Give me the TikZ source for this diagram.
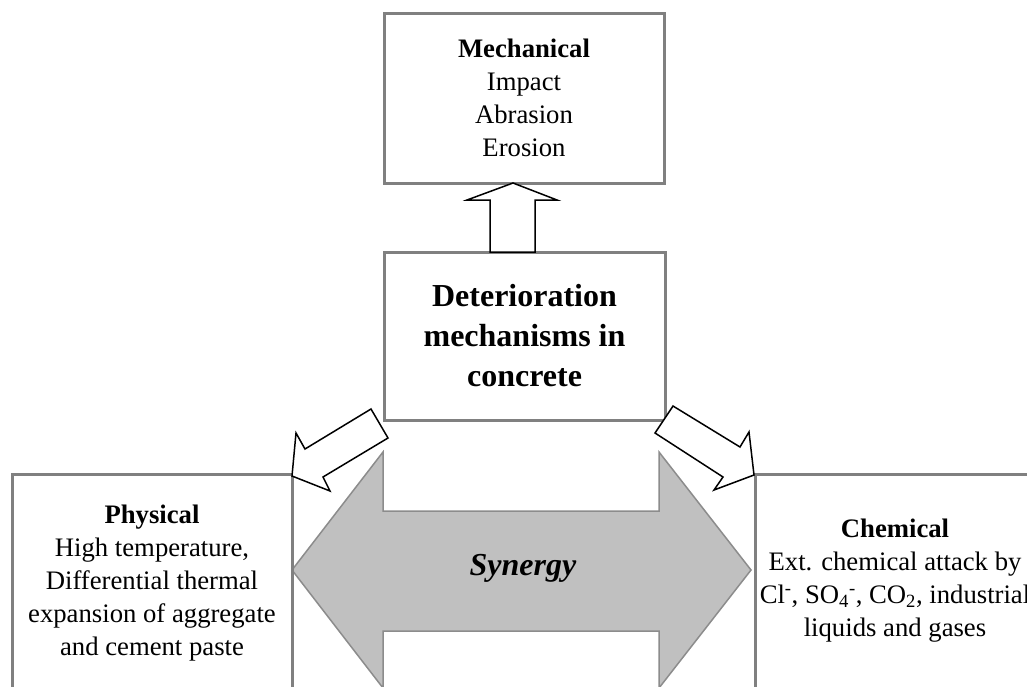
\documentclass[tikz,border=0pt]{standalone}
\usepackage{fontspec}
\setmainfont{Liberation Serif}
\definecolor{boxgray}{HTML}{808080}
\definecolor{synfill}{HTML}{C0C0C0}
\definecolor{synline}{HTML}{8C8C8C}
\begin{document}
\begin{tikzpicture}[x=1pt,y=-1pt,
  box/.style={draw=boxgray, line width=3pt, fill=white, rectangle, inner sep=0pt,
    align=center, font=\fontsize{26.7}{33}\selectfont},
  mainbox/.style={box, font=\fontsize{32}{40}\selectfont\bfseries},
  blockarrow/.style={draw=black, line width=1.5pt, fill=white, line join=miter},
  synarrow/.style={draw=synline, line width=1.5pt, fill=synfill, line join=miter}]
\useasboundingbox (0,0) rectangle (1027,686);
\clip (0,0) rectangle (1027,686);

% two-headed arrow between the physical and chemical boxes
\draw[synarrow] (292,570) -- (383,452) -- (383,511) -- (659,511) -- (659,452)
  -- (751,570) -- (659,688) -- (659,631) -- (383,631) -- (383,688) -- cycle;
\node[font=\fontsize{32}{40}\selectfont\bfseries\itshape] (syn) at (523,568) {Synergy};

% boxes
\node[box, minimum width=280pt, minimum height=170pt] (mech) at (524,98)
  {\textbf{Mechanical}\\Impact\\Abrasion\\Erosion};
\node[mainbox, minimum width=281pt, minimum height=168pt] (main) at (524.5,336)
  {Deterioration\\mechanisms in\\concrete};
\node[box, minimum width=280pt, minimum height=218pt] (phys) at (152,583)
  {\textbf{Physical}\\High temperature,\\Differential thermal\\expansion of aggregate\\and cement paste};
\node[box, minimum width=280pt, minimum height=214pt] (chem) at (895,581)
  {\textbf{Chemical}\\Ext. chemical attack by\\Cl\textsuperscript{-}, SO\textsubscript{4}\textsuperscript{-}, CO\textsubscript{2}, industrial\\liquids and gases};

% block arrows leaving the central box
\draw[blockarrow] (490,252) -- (490,200) -- (467,200) -- (513,183) -- (557,200)
  -- (535,200) -- (535,252) -- cycle;
\draw[blockarrow] (371,409) -- (305,449) -- (296,433) -- (292,476) -- (330,491)
  -- (323,477) -- (388,438) -- cycle;
\draw[blockarrow] (673,406) -- (740,447) -- (749,432) -- (754,475) -- (714,490)
  -- (723,477) -- (655,433) -- cycle;
\end{tikzpicture}
\end{document}
